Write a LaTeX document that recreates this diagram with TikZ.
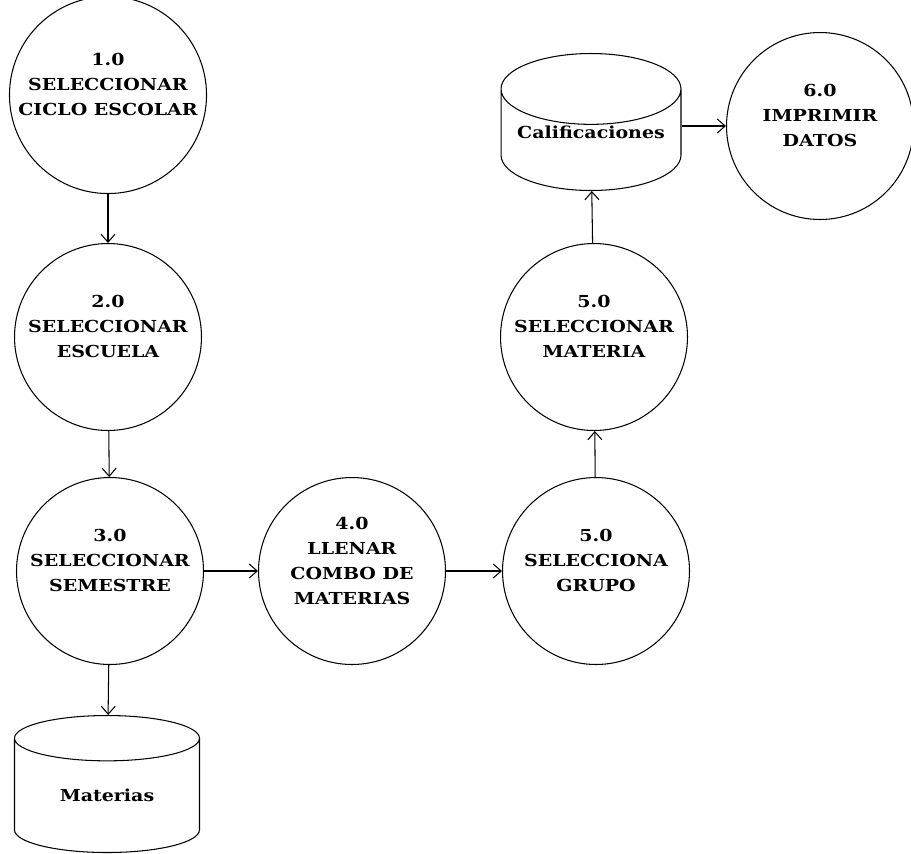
\documentclass[tikz,border=0pt]{standalone}
\usepackage{fontspec}
\setmainfont{DejaVu Serif}[FakeStretch=1.15]
\usetikzlibrary{shapes.geometric,arrows.meta}

\begin{document}
\begin{tikzpicture}[x=0.02cm, y=-0.02cm, line width=0.6pt,
        proc/.style={circle, draw, minimum size=3.74cm, inner sep=0pt, align=center,
            font=\bfseries\fontsize{9.4}{14.2}\selectfont, text depth=12pt},
        store/.style={cylinder, draw, shape border rotate=90, aspect=0.48,
            minimum width=3.6cm, minimum height=2.74cm, inner sep=0pt, anchor=shape center,
            font=\bfseries\fontsize{9.4}{14.2}\selectfont},
        flow/.style={-{Straight Barb[length=1.6mm,width=2.8mm]}}]
        \useasboundingbox (0,0) rectangle (911,853);

        % left column
        \node[proc] (p1) at (108,95) {1.0\\SELECCIONAR\\CICLO ESCOLAR};
        \node[proc] (p2) at (108,337) {2.0\\SELECCIONAR\\ESCUELA};
        \node[proc] (p3) at (110,571) {3.0\\SELECCIONAR\\SEMESTRE};
        \node[store, minimum width=3.7cm] (mat) at (107,784) {Materias};

        % bottom row
        \node[proc] (p4) at (352,571) {4.0\\LLENAR\\COMBO DE\\MATERIAS};
        \node[proc] (p5) at (596,571) {5.0\\SELECCIONA\\GRUPO};

        % right column
        \node[proc] (p5b) at (594,337) {5.0\\SELECCIONAR\\MATERIA};
        \node[store, text depth=9pt] (cal) at (591,122) {Calificaciones};
        \node[proc] (p6) at (820,126) {6.0\\IMPRIMIR\\DATOS};

        \draw[flow] (p1) -- (p2);
        \draw[flow] (p2) -- (p3);
        \draw[flow] (p3) -- (mat);
        \draw[flow] (p3) -- (p4);
        \draw[flow] (p4) -- (p5);
        \draw[flow] (p5) -- (p5b);
        \draw[flow] (p5b) -- (cal);
        \draw[flow] (p6.west -| cal.east) -- (p6.west);
\end{tikzpicture}
\end{document}
